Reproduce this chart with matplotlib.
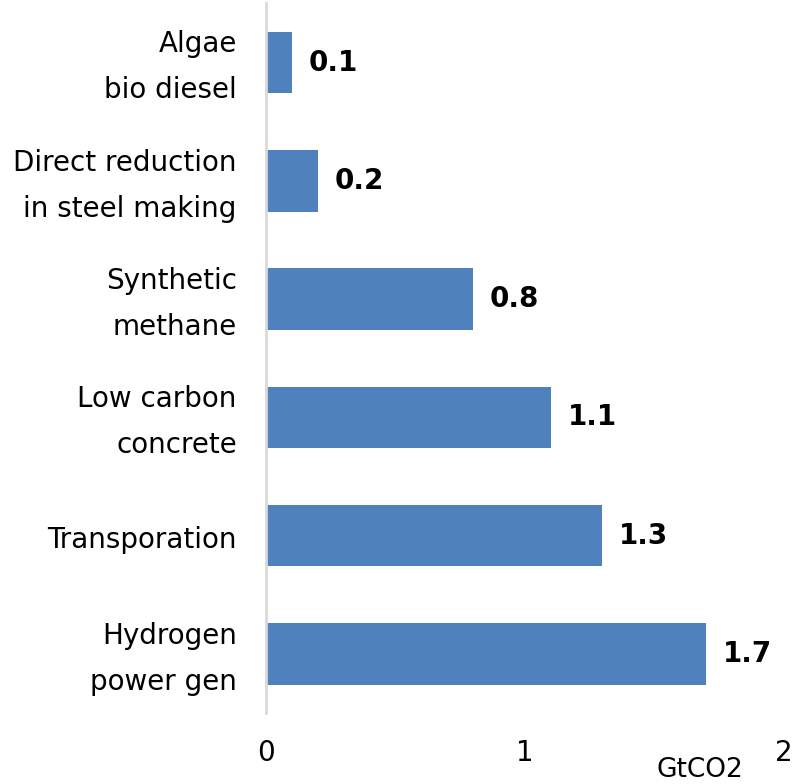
import matplotlib
matplotlib.use("Agg")
import matplotlib.pyplot as plt

categories = [
    "Hydrogen\npower gen",
    "Transporation",
    "Low carbon\nconcrete",
    "Synthetic\nmethane",
    "Direct reduction\nin steel making",
    "Algae\nbio diesel",
]
values = [1.7, 1.3, 1.1, 0.8, 0.2, 0.1]
x_ticks = [0, 1, 2]
unit_label = "GtCO2"

bar_color = "#4F81BD"

fig = plt.figure(figsize=(7.94, 7.84), dpi=100)
ax = fig.add_axes([0.335, 0.0906, 0.652, 0.905])

ypos = list(range(len(categories)))
ax.barh(ypos, values, height=0.52, color=bar_color)

# value labels at the end of each bar
for y, v in zip(ypos, values):
    ax.annotate(f"{v:.1f}", xy=(v, y), xytext=(12, 0), textcoords="offset points",
                ha="left", va="center", fontsize=20, fontweight="bold", color="black")

ax.set_xlim(0, 2)
ax.set_ylim(-0.5, len(categories) - 0.5)

# category names placed left of the axis line, a touch below bar centre
ax.set_yticks(ypos)
ax.set_yticklabels([])
for y, name in zip(ypos, categories):
    ax.annotate(name, xy=(0, y), xytext=(-21, -3.5), textcoords="offset points",
                ha="right", va="center", fontsize=20, linespacing=1.82,
                annotation_clip=False)

ax.set_xticks(x_ticks)
ax.set_xticklabels([str(t) for t in x_ticks], fontsize=20)

for side in ["top", "right", "bottom"]:
    ax.spines[side].set_visible(False)
ax.spines["left"].set_color("#D9D9D9")
ax.spines["left"].set_linewidth(2)
ax.tick_params(axis="both", length=0)
ax.tick_params(axis="x", pad=19)

fig.text(0.882, 0.018, unit_label, fontsize=19, ha="center", va="center")

fig.savefig("out.png", dpi=100)
